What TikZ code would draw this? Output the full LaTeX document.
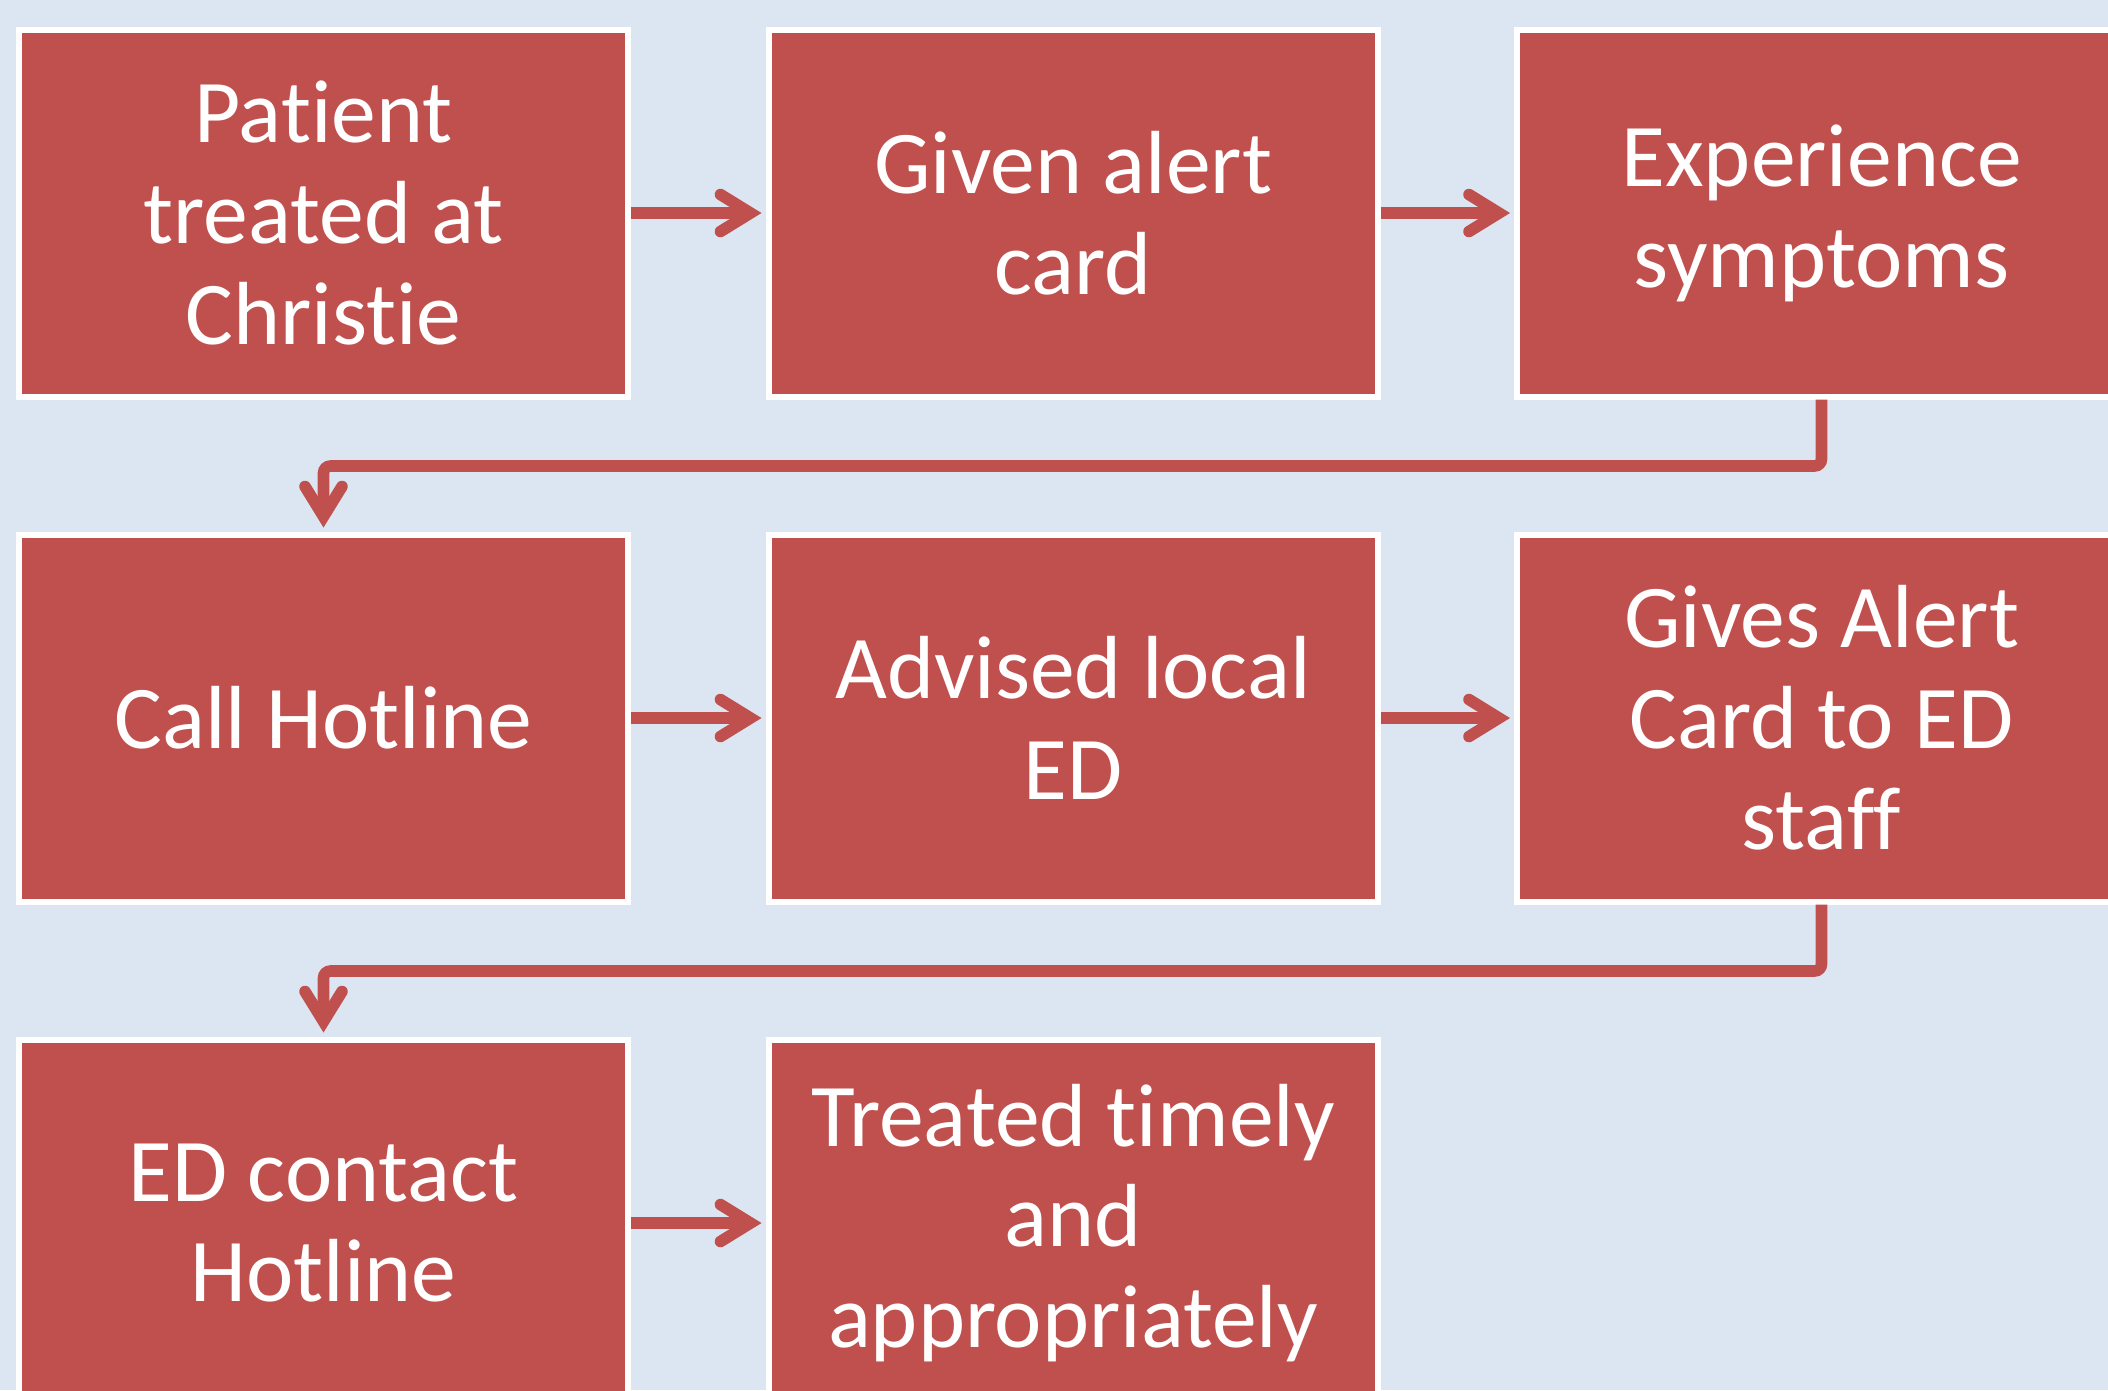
\documentclass[tikz,border=0pt]{standalone}
\usepackage{fontspec}
\setmainfont{Carlito}[Ligatures=NoCommon]
\usetikzlibrary{arrows.meta}
\definecolor{boxred}{HTML}{C0504D}
\definecolor{bgblue}{HTML}{DCE6F2}
\begin{document}
\begin{tikzpicture}[x=1cm,y=1cm,
  stepbox/.style={draw=white, line width=1.7pt, fill=boxred, minimum width=6.09cm, minimum height=3.67cm, inner sep=0pt, text=white, align=center, font=\fontsize{25.5pt}{28.7pt}\selectfont},
  conn/.style={draw=boxred, line width=3.3pt, -{Straight Barb[length=3.0mm,width=3.7mm,line cap=round,line join=miter]}, shorten >=0.4mm}
]
\useasboundingbox (0,0) rectangle (21.08,-13.90);
\clip (0,0) rectangle (21.08,-13.90);
\fill[bgblue] (0,0) rectangle (21.08,-13.90);

\node[stepbox] (b1) at (3.235,-2.13) {Patient\\treated at\\Christie};
\node[stepbox] (b2) at (10.73,-2.13) {Given alert\\card};
\node[stepbox] (b3) at (18.215,-2.13) {Experience\\symptoms};
\node[stepbox] (b4) at (3.235,-7.18) {Call Hotline};
\node[stepbox] (b5) at (10.73,-7.18) {Advised local\\ED};
\node[stepbox] (b6) at (18.215,-7.18) {Gives Alert\\Card to ED\\staff};
\node[stepbox] (b7) at (3.235,-12.23) {ED contact\\Hotline};
\node[stepbox] (b8) at (10.73,-12.23) {Treated timely\\and\\appropriately};

\draw[conn] (b1.east) -- (b2.west);
\draw[conn] (b2.east) -- (b3.west);
\draw[conn] (b4.east) -- (b5.west);
\draw[conn] (b5.east) -- (b6.west);
\draw[conn] (b7.east) -- (b8.west);
\draw[conn, rounded corners=2pt] (b3.south) -- ++(0,-0.665) -| (b4.north);
\draw[conn, rounded corners=2pt] (b6.south) -- ++(0,-0.665) -| (b7.north);
\end{tikzpicture}
\end{document}
